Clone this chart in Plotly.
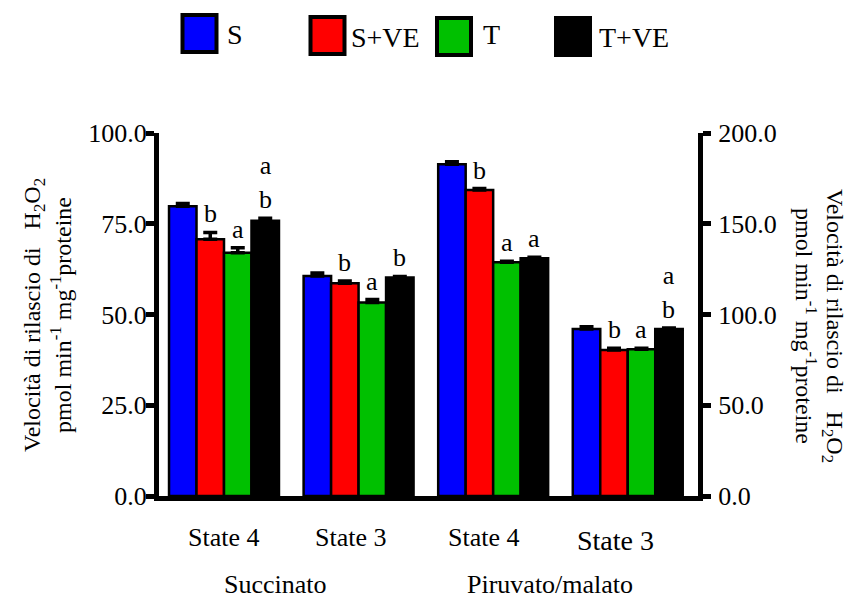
import plotly.graph_objects as go

# ---- data -------------------------------------------------------------
categories = ["State 4", "State 3", "State 4", "State 3"]
substrates = ["Succinato", "Piruvato/malato"]
series = ["S", "S+VE", "T", "T+VE"]
colors = ["#0000FF", "#FF0000", "#00C000", "#000000"]

# first two values: Succinato (left axis), last two: Piruvato/malato (right axis)
S_vals = [79.8, 60.6, 182.8, 92.0]
S_err = [0.8, 0.8, 1.4, 1.2]
SVE_vals = [70.7, 58.6, 168.6, 80.4]
SVE_err = [1.9, 0.6, 0.8, 1.0]
T_vals = [67.0, 53.3, 128.8, 80.8]
T_err = [1.4, 0.8, 0.5, 0.6]
TVE_vals = [75.8, 60.2, 131.0, 92.0]
TVE_err = [0.7, 0.3, 0.6, 0.6]

S_letters = ["", "", "", ""]
SVE_letters = ["b", "b", "b", "b"]
T_letters = ["a", "a", "a", "a"]
TVE_letters = ["a<br>b", "b", "a", "a<br>b"]

values = [S_vals, SVE_vals, T_vals, TVE_vals]
errors = [S_err, SVE_err, T_err, TVE_err]
letters = [S_letters, SVE_letters, T_letters, TVE_letters]

FONT = "'Liberation Serif', 'Times New Roman', Times, serif"
BARGAP = 0.183
positions = list(range(len(categories)))
left_idx = [0, 1]
right_idx = [2, 3]

# plot-area geometry in pixels (used to place the hand-drawn legend)
PX0, PX1, PY0, PY1 = 159, 698, 496, 133
PW, PH = PX1 - PX0, PY0 - PY1

fig = go.Figure()
for k, name in enumerate(series):
    for idx, axis in ((left_idx, "y"), (right_idx, "y2")):
        fig.add_trace(go.Bar(
            x=[positions[i] for i in idx],
            y=[values[k][i] for i in idx],
            name=name,
            offsetgroup=name,
            yaxis=axis,
            marker=dict(color=colors[k], line=dict(color="black", width=2.5)),
            error_y=dict(type="data", symmetric=False,
                         array=[errors[k][i] for i in idx],
                         arrayminus=[0] * len(idx),
                         color="black", thickness=3.5, width=7),
            showlegend=False,
            hoverinfo="skip",
        ))

annotations = []
bar_w = (1 - BARGAP) / len(series)
for k in range(len(series)):
    for i in positions:
        if not letters[k][i]:
            continue
        annotations.append(dict(
            x=positions[i] + (k - (len(series) - 1) / 2) * bar_w,
            y=values[k][i] + errors[k][i],
            xref="x", yref="y" if i in left_idx else "y2",
            text=letters[k][i], showarrow=False,
            xanchor="center", yanchor="bottom", yshift=2,
            font=dict(family=FONT, size=26, color="black"),
        ))

# category labels under each group
label_shift = [0, -8, -9, -12]
label_y = [-0.113, -0.113, -0.113, -0.122]
for i, cat in enumerate(categories):
    annotations.append(dict(
        x=positions[i], y=label_y[i], xref="x", yref="paper",
        xshift=label_shift[i], text=cat, showarrow=False,
        xanchor="center", yanchor="middle",
        font=dict(family=FONT, size=26 if i < 3 else 28, color="black"),
    ))

# substrate labels
for x, txt in zip([0.385, 2.42], substrates):
    annotations.append(dict(
        x=x, y=-0.245, xref="x", yref="paper", text=txt, showarrow=False,
        xanchor="center", yanchor="middle",
        font=dict(family=FONT, size=26, color="black"),
    ))

ytitle = ("Velocità di rilascio di &nbsp; H<sub>2</sub>O<sub>2</sub><br>"
          "pmol min<sup>-1</sup> mg<sup>-1</sup>proteine")
annotations.append(dict(
    x=(47 - PX0) / PW, y=(PY0 - 315) / PH, xref="paper", yref="paper",
    text=ytitle, textangle=-90, showarrow=False,
    xanchor="center", yanchor="middle",
    font=dict(family=FONT, size=24, color="black"),
))
annotations.append(dict(
    x=(820 - PX0) / PW, y=(PY0 - 326) / PH, xref="paper", yref="paper",
    text=ytitle, textangle=90, showarrow=False,
    xanchor="center", yanchor="middle",
    font=dict(family=FONT, size=24, color="black"),
))

# legend drawn as large outlined swatches with labels
legend_box_x = [182.5, 310.5, 437, 556]
legend_box_y = [15, 17, 18, 18]
legend_text_x = [225, 349, 481, 597]
legend_text_y = [35, 38, 34, 38]
shapes = []
for k, name in enumerate(series):
    x0, y0 = legend_box_x[k], legend_box_y[k]
    shapes.append(dict(
        type="rect", xref="paper", yref="paper",
        x0=(x0 - PX0) / PW, x1=(x0 + 34 - PX0) / PW,
        y0=(PY0 - y0) / PH, y1=(PY0 - y0 - 37) / PH,
        fillcolor=colors[k], line=dict(color="black", width=4),
    ))
    annotations.append(dict(
        x=(legend_text_x[k] - PX0) / PW, y=(PY0 - legend_text_y[k]) / PH,
        xref="paper", yref="paper", text=name, showarrow=False,
        xanchor="left", yanchor="middle",
        font=dict(family=FONT, size=28, color="black"),
    ))

axis_common = dict(
    showline=True, linecolor="black", linewidth=5,
    ticks="outside", tickcolor="black", tickwidth=4.5, ticklen=8,
    tickformat=".1f", showgrid=False, zeroline=False,
    tickfont=dict(family=FONT, size=26, color="black"),
)

fig.update_layout(
    width=857, height=598,
    margin=dict(l=PX0, r=857 - PX1, t=PY1, b=598 - PY0),
    paper_bgcolor="white", plot_bgcolor="white",
    font=dict(family=FONT, color="black"),
    barmode="group", bargap=BARGAP, bargroupgap=0,
    xaxis=dict(range=[-0.483, 3.522], showticklabels=False, ticks="",
               showline=True, linecolor="black", linewidth=5,
               showgrid=False, zeroline=False, fixedrange=True),
    yaxis=dict(range=[0, 100], tickvals=[0, 25, 50, 75, 100],
               ticklabelstandoff=-6, **axis_common),
    yaxis2=dict(range=[0, 200], tickvals=[0, 50, 100, 150, 200],
                overlaying="y", side="right", ticklabelstandoff=2,
                **axis_common),
    annotations=annotations,
    shapes=shapes,
    showlegend=False,
)

fig.write_html("out.html")
